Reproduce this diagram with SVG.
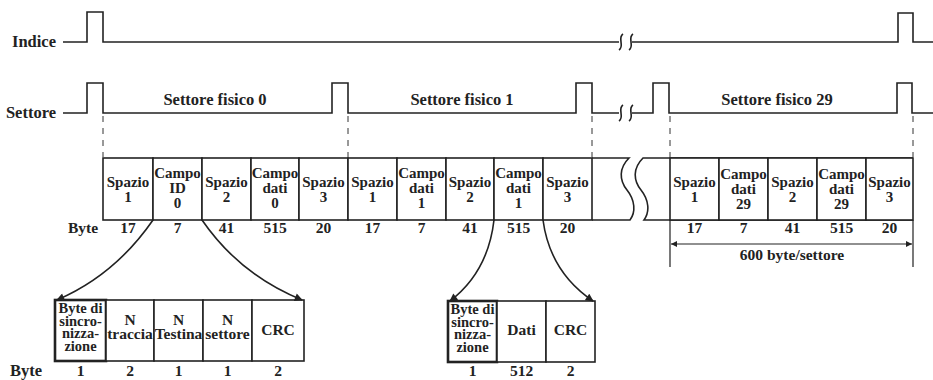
<svg xmlns="http://www.w3.org/2000/svg" width="933" height="380" viewBox="0 0 933 380">
<defs>
<marker id="ah" viewBox="0 0 10 10" refX="9" refY="5" markerWidth="11" markerHeight="8" markerUnits="userSpaceOnUse" orient="auto"><path d="M0,0 L10,5 L0,10 z" fill="#222"/></marker>
<marker id="dh" viewBox="0 0 10 10" refX="10" refY="5" markerWidth="9" markerHeight="6" markerUnits="userSpaceOnUse" orient="auto-start-reverse"><path d="M0,0 L10,5 L0,10 z" fill="#222"/></marker>
</defs>
<style>
text{font-family:"Liberation Serif","DejaVu Serif",serif;font-weight:bold;fill:#222;}
.lbl{font-size:16.5px;}
.c{font-size:15px;text-anchor:middle;}
.s{font-size:14.5px;text-anchor:middle;}
.cb{font-size:15.5px;text-anchor:middle;}
.n{font-size:15.5px;text-anchor:middle;}
.sig{fill:none;stroke:#222;stroke-width:1.6;}
.cell{fill:#fff;stroke:#222;stroke-width:1.6;}
.thick{fill:#fff;stroke:#222;stroke-width:2.6;}
.ln{fill:none;stroke:#222;stroke-width:1.6;}
.dash{fill:none;stroke:#333;stroke-width:1;stroke-dasharray:6,6;}
.conn{fill:none;stroke:#222;stroke-width:1.6;}
</style>
<rect width="933" height="380" fill="#fff"/>

<g id="signal-indice">
<text class="lbl" x="56" y="47" text-anchor="end">Indice</text>
<path class="sig" d="M63,42 H87 V12 H103 V42 H619"/>
<path class="sig" d="M623,34 C617,38 625,46 619,50 M633,34 C627,38 635,46 629,50"/>
<path class="sig" d="M632,42 H898 V13 H913 V42 H933"/>
</g>

<g id="signal-settore">
<text class="lbl" x="56" y="118" text-anchor="end">Settore</text>
<path class="sig" d="M63,113 H87 V83 H103 V113 H332 V83 H348 V113 H576 V83 H592 V113 H619"/>
<path class="sig" d="M623,105 C617,109 625,117 619,121 M633,105 C627,109 635,117 629,121"/>
<path class="sig" d="M632,113 H653 V83 H669 V113 H897 V83 H912 V113 H933"/>
<text class="lbl" x="215" y="105" text-anchor="middle">Settore fisico 0</text>
<text class="lbl" x="462" y="105" text-anchor="middle">Settore fisico 1</text>
<text class="lbl" x="777" y="105" text-anchor="middle">Settore fisico 29</text>
</g>

<g id="guides">
<path class="dash" d="M103,116 V157 M348,116 V157 M592,116 V157 M670,116 V157 M913,116 V157"/>
</g>

<g id="sector-0">
<g id="s0-spazio1"><rect class="cell" x="103" y="158" width="50" height="62"/><text class="c" x="128" y="187">Spazio</text><text class="c" x="128" y="202">1</text></g>
<g id="s0-campoid"><rect class="cell" x="153" y="158" width="49" height="62"/><text class="c" x="177.5" y="178">Campo</text><text class="c" x="177.5" y="193">ID</text><text class="c" x="177.5" y="208">0</text></g>
<g id="s0-spazio2"><rect class="cell" x="202" y="158" width="49" height="62"/><text class="c" x="226.5" y="187">Spazio</text><text class="c" x="226.5" y="202">2</text></g>
<g id="s0-campodati"><rect class="cell" x="251" y="158" width="48" height="62"/><text class="c" x="275" y="178">Campo</text><text class="c" x="275" y="193">dati</text><text class="c" x="275" y="208">0</text></g>
<g id="s0-spazio3"><rect class="cell" x="299" y="158" width="49" height="62"/><text class="c" x="323.5" y="187">Spazio</text><text class="c" x="323.5" y="202">3</text></g>
</g>

<g id="sector-1">
<g id="s1-spazio1"><rect class="cell" x="348" y="158" width="49" height="62"/><text class="c" x="372.5" y="187">Spazio</text><text class="c" x="372.5" y="202">1</text></g>
<g id="s1-campoid"><rect class="cell" x="397" y="158" width="49" height="62"/><text class="c" x="421.5" y="178">Campo</text><text class="c" x="421.5" y="193">dati</text><text class="c" x="421.5" y="208">1</text></g>
<g id="s1-spazio2"><rect class="cell" x="446" y="158" width="48" height="62"/><text class="c" x="470" y="187">Spazio</text><text class="c" x="470" y="202">2</text></g>
<g id="s1-campodati"><rect class="cell" x="494" y="158" width="49" height="62"/><text class="c" x="518.5" y="178">Campo</text><text class="c" x="518.5" y="193">dati</text><text class="c" x="518.5" y="208">1</text></g>
<g id="s1-spazio3"><rect class="cell" x="543" y="158" width="49" height="62"/><text class="c" x="567.5" y="187">Spazio</text><text class="c" x="567.5" y="202">3</text></g>
</g>

<g id="track-break">
<path class="ln" d="M592,158 H629 C619,168 619,180 627,190 C635,200 636,212 630,220 H592"/>
<path class="ln" d="M913,158 H643 C633,168 633,180 641,190 C649,200 650,212 644,220 H913"/>
</g>

<g id="sector-29">
<g id="s29-spazio1"><rect class="cell" x="670" y="158" width="49" height="62"/><text class="c" x="694.5" y="187">Spazio</text><text class="c" x="694.5" y="202">1</text></g>
<g id="s29-campoid"><rect class="cell" x="719" y="158" width="49" height="62"/><text class="c" x="743.5" y="179">Campo</text><text class="c" x="743.5" y="194">dati</text><text class="c" x="743.5" y="209">29</text></g>
<g id="s29-spazio2"><rect class="cell" x="768" y="158" width="49" height="62"/><text class="c" x="792.5" y="187">Spazio</text><text class="c" x="792.5" y="202">2</text></g>
<g id="s29-campodati"><rect class="cell" x="817" y="158" width="49" height="62"/><text class="c" x="841.5" y="179">Campo</text><text class="c" x="841.5" y="194">dati</text><text class="c" x="841.5" y="209">29</text></g>
<g id="s29-spazio3"><rect class="cell" x="866" y="158" width="47" height="62"/><text class="c" x="889.5" y="187">Spazio</text><text class="c" x="889.5" y="202">3</text></g>
</g>

<g id="byte-row-top">
<text class="n" x="83" y="233">Byte</text>
<text class="n" x="128" y="233">17</text>
<text class="n" x="177.5" y="233">7</text>
<text class="n" x="226.5" y="233">41</text>
<text class="n" x="275" y="233">515</text>
<text class="n" x="323.5" y="233">20</text>
<text class="n" x="372.5" y="233">17</text>
<text class="n" x="421.5" y="233">7</text>
<text class="n" x="470" y="233">41</text>
<text class="n" x="518.5" y="233">515</text>
<text class="n" x="567.5" y="233">20</text>
<text class="n" x="694.5" y="233">17</text>
<text class="n" x="743.5" y="233">7</text>
<text class="n" x="792.5" y="233">41</text>
<text class="n" x="841.5" y="233">515</text>
<text class="n" x="889.5" y="233">20</text>
</g>

<g id="id-field">
<g id="id-sync"><rect class="thick" x="55" y="300" width="51" height="61"/><text class="s" x="80.5" y="313">Byte di</text><text class="s" x="80.5" y="325.5">sincro-</text><text class="s" x="80.5" y="338">nizza-</text><text class="s" x="80.5" y="350.5">zione</text></g>
<g id="id-traccia"><rect class="cell" x="106" y="300" width="48" height="61"/><text class="cb" x="130" y="325">N</text><text class="cb" x="130" y="339">traccia</text></g>
<g id="id-testina"><rect class="cell" x="154" y="300" width="49" height="61"/><text class="cb" x="178.5" y="325">N</text><text class="cb" x="178.5" y="339">Testina</text></g>
<g id="id-settore"><rect class="cell" x="203" y="300" width="49" height="61"/><text class="cb" x="227.5" y="325">N</text><text class="cb" x="227.5" y="339">settore</text></g>
<g id="id-crc"><rect class="cell" x="252" y="300" width="52" height="61"/><text class="cb" x="278" y="335">CRC</text></g>
<text class="n" x="26" y="376" style="font-size:16.5px">Byte</text>
<text class="n" x="80.5" y="376">1</text>
<text class="n" x="130" y="376">2</text>
<text class="n" x="178.5" y="376">1</text>
<text class="n" x="227.5" y="376">1</text>
<text class="n" x="278" y="376">2</text>
</g>

<g id="data-field">
<g id="d-sync"><rect class="thick" x="448" y="301" width="49" height="61"/><text class="s" x="472.5" y="314">Byte di</text><text class="s" x="472.5" y="326.5">sincro-</text><text class="s" x="472.5" y="339">nizza-</text><text class="s" x="472.5" y="351.5">zione</text></g>
<g id="d-dati"><rect class="cell" x="497" y="301" width="49" height="61"/><text class="cb" x="521.5" y="335">Dati</text></g>
<g id="d-crc"><rect class="cell" x="546" y="301" width="49" height="61"/><text class="cb" x="570.5" y="335">CRC</text></g>
<text class="n" x="472.5" y="376">1</text>
<text class="n" x="521.5" y="376">512</text>
<text class="n" x="570.5" y="376">2</text>
</g>

<g id="connectors">
<path class="conn" d="M153,220 Q115,275 57,300" marker-end="url(#ah)"/>
<path class="conn" d="M202,220 Q240,275 302,300" marker-end="url(#ah)"/>
<path class="conn" d="M494,220 Q488,272 450,301" marker-end="url(#ah)"/>
<path class="conn" d="M543,220 Q550,272 593,301" marker-end="url(#ah)"/>
<path class="ln" d="M670,220 V267 M913,220 V267" style="stroke-width:1.2"/>
<path class="ln" d="M671,244 H912" style="stroke-width:1.2" marker-start="url(#dh)" marker-end="url(#dh)"/>
<text class="n" x="792" y="260">600 byte/settore</text>
</g>
</svg>
